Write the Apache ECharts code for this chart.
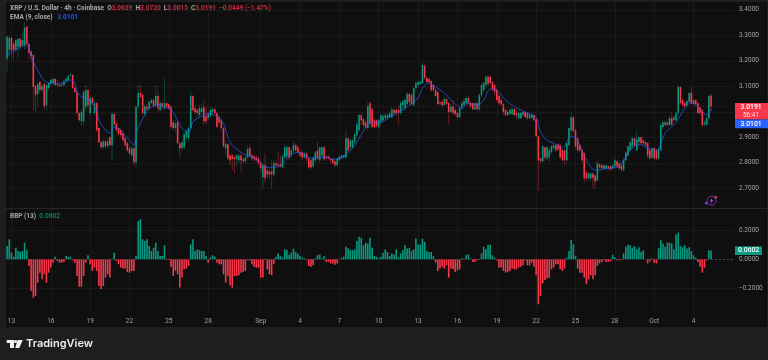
<!DOCTYPE html>
<html>
<head>
<meta charset="utf-8">
<style>html,body{margin:0;padding:0;background:#1e1e1e}#main{width:768px;height:360px}</style>
<script src="https://cdn.jsdelivr.net/npm/echarts@6/dist/echarts.min.js"></script>
</head>
<body>
<div id="main"></div>
<script>
// XRP / USD 4h candles
const opens = [3.211,3.243,3.290,3.267,3.243,3.255,3.286,3.259,3.259,3.334,
3.267,3.235,3.223,3.101,3.070,3.117,3.085,3.109,3.026,3.093,
3.109,3.113,3.129,3.109,3.105,3.101,3.105,3.121,3.125,3.141,
3.145,3.093,3.078,2.995,2.963,2.963,3.018,3.085,2.995,3.054,
2.995,3.034,2.936,2.881,2.861,2.884,2.865,2.900,2.869,2.991,
2.955,2.936,2.928,2.916,2.896,2.877,2.857,2.829,2.857,2.802,
3.018,3.074,3.066,2.991,3.022,3.014,3.034,3.046,3.026,3.062,
3.007,3.034,3.014,3.034,3.030,3.022,2.959,2.936,2.959,2.877,
2.857,2.861,2.900,2.896,2.936,3.062,3.014,3.007,2.987,2.999,
3.018,2.983,2.975,2.983,2.999,3.010,2.995,2.979,2.967,2.936,
2.857,2.873,2.829,2.829,2.821,2.814,2.810,2.829,2.814,2.806,
2.821,2.857,2.829,2.825,2.821,2.817,2.798,2.743,2.790,2.770,
2.766,2.766,2.754,2.798,2.794,2.794,2.782,2.821,2.825,2.861,
2.829,2.849,2.869,2.861,2.841,2.841,2.821,2.837,2.817,2.810,
2.786,2.810,2.849,2.810,2.829,2.861,2.825,2.825,2.817,2.814,
2.806,2.790,2.810,2.817,2.821,2.821,2.896,2.861,2.861,2.881,
2.908,2.928,2.987,2.971,2.959,2.936,3.034,3.010,2.967,2.967,
2.940,2.963,2.967,2.975,2.975,2.979,2.979,3.007,3.007,3.007,
2.995,3.026,3.014,3.030,3.070,3.066,3.026,3.093,3.105,3.109,
3.113,3.180,3.133,3.129,3.121,3.105,3.085,3.078,3.038,3.038,
3.026,3.050,3.034,2.999,3.022,3.007,2.995,2.979,3.014,3.026,
3.034,3.054,3.034,3.034,3.010,3.034,3.010,3.066,3.085,3.105,
3.137,3.137,3.117,3.105,3.085,3.062,3.046,3.030,3.007,2.987,
2.991,2.991,3.010,2.995,2.975,2.975,2.987,2.999,2.995,2.975,
2.975,2.987,2.971,2.904,2.817,2.806,2.861,2.817,2.821,2.841,
2.857,2.869,2.873,2.869,2.849,2.849,2.810,2.869,2.928,2.979,
2.928,2.896,2.869,2.849,2.837,2.762,2.739,2.739,2.758,2.750,
2.731,2.794,2.790,2.778,2.778,2.786,2.786,2.778,2.786,2.806,
2.798,2.790,2.770,2.810,2.829,2.849,2.865,2.896,2.849,2.881,
2.900,2.888,2.881,2.877,2.849,2.821,2.857,2.849,2.817,2.849,
2.940,2.948,2.959,2.948,2.975,2.967,2.967,2.995,3.097,3.046,
3.034,3.026,3.038,3.074,3.046,3.046,3.034,3.018,3.007,2.951,
2.948,2.975,3.0639]
const closes = [3.294,3.290,3.243,3.243,3.282,3.286,3.255,3.282,3.330,3.267,
3.231,3.219,3.097,3.066,3.109,3.085,3.101,3.022,3.105,3.113,
3.125,3.129,3.105,3.105,3.101,3.105,3.121,3.129,3.141,3.145,
3.093,3.078,2.995,2.967,2.999,3.078,3.085,3.026,3.054,3.034,
3.034,2.928,2.881,2.861,2.884,2.865,2.884,2.869,2.991,2.951,
2.928,2.912,2.908,2.888,2.869,2.849,2.837,2.857,2.802,3.018,
3.074,3.058,2.995,3.022,3.010,3.038,3.046,3.022,3.062,3.014,
3.034,3.018,3.034,3.018,3.014,2.940,2.936,2.955,2.877,2.857,
2.881,2.912,2.924,2.936,3.062,3.007,2.999,2.995,3.014,3.014,
2.963,2.963,2.991,3.007,3.010,2.995,2.940,2.959,2.936,2.865,
2.873,2.817,2.810,2.814,2.814,2.829,2.829,2.810,2.806,2.821,
2.853,2.825,2.817,2.814,2.810,2.798,2.778,2.790,2.739,2.754,
2.754,2.754,2.798,2.790,2.790,2.786,2.825,2.861,2.861,2.821,
2.849,2.869,2.849,2.841,2.829,2.821,2.837,2.817,2.782,2.782,
2.821,2.841,2.817,2.861,2.861,2.814,2.821,2.817,2.810,2.798,
2.790,2.817,2.825,2.829,2.829,2.896,2.849,2.888,2.888,2.912,
2.951,2.987,2.967,2.948,2.940,3.022,2.955,2.940,2.940,2.944,
2.967,2.987,2.983,2.987,2.987,2.995,3.010,2.995,2.995,2.995,
3.034,3.042,3.046,3.070,3.038,3.030,3.093,3.113,3.117,3.117,
3.184,3.133,3.117,3.117,3.085,3.085,3.062,3.030,3.034,3.026,
3.050,3.030,2.999,3.022,2.995,2.991,2.979,3.014,3.034,3.042,
3.054,3.034,3.018,3.010,3.034,3.010,3.066,3.105,3.113,3.137,
3.109,3.113,3.089,3.078,3.046,3.034,3.030,2.999,2.987,2.999,
3.007,3.010,2.987,2.987,2.995,2.995,2.999,2.979,2.975,2.987,
2.987,2.967,2.904,2.810,2.806,2.865,2.821,2.861,2.849,2.865,
2.869,2.849,2.853,2.821,2.810,2.810,2.877,2.936,2.979,2.924,
2.865,2.849,2.849,2.810,2.739,2.739,2.758,2.758,2.739,2.727,
2.798,2.782,2.778,2.790,2.790,2.778,2.774,2.790,2.810,2.786,
2.778,2.774,2.810,2.841,2.865,2.881,2.896,2.869,2.892,2.900,
2.877,2.877,2.869,2.829,2.817,2.857,2.817,2.817,2.853,2.948,
2.959,2.959,2.948,2.975,2.951,2.979,2.995,3.097,3.034,3.026,
3.022,3.042,3.074,3.034,3.030,3.030,2.995,2.995,2.948,2.959,
2.975,3.062,3.0191]
const highs = [3.298,3.298,3.294,3.275,3.286,3.290,3.290,3.310,3.353,3.338,
3.267,3.243,3.227,3.105,3.117,3.121,3.109,3.117,3.109,3.117,
3.133,3.133,3.133,3.125,3.117,3.121,3.129,3.137,3.148,3.152,
3.148,3.101,3.085,2.999,3.007,3.085,3.105,3.089,3.062,3.058,
3.046,3.038,2.940,2.888,2.892,2.888,2.896,2.904,2.999,2.995,
2.959,2.940,2.936,2.924,2.904,2.884,2.865,2.865,2.861,3.026,
3.105,3.105,3.074,3.030,3.030,3.046,3.054,3.054,3.105,3.085,
3.042,3.038,3.133,3.038,3.034,3.026,2.967,2.967,2.963,2.881,
2.888,2.920,2.932,2.944,3.081,3.066,3.022,3.014,3.026,3.034,
3.046,3.022,2.999,3.014,3.018,3.014,2.999,2.987,2.975,2.940,
2.888,2.877,2.837,2.833,2.829,2.833,2.837,2.837,2.821,2.829,
2.869,2.869,2.837,2.833,2.829,2.825,2.806,2.798,2.837,2.790,
2.778,2.810,2.810,2.806,2.841,2.829,2.837,2.869,2.869,2.865,
2.857,2.884,2.877,2.869,2.849,2.849,2.845,2.841,2.821,2.817,
2.825,2.845,2.881,2.865,2.865,2.865,2.829,2.829,2.821,2.817,
2.810,2.821,2.829,2.833,2.833,2.928,2.900,2.892,2.892,2.920,
2.959,2.991,2.995,2.975,2.967,3.038,3.042,3.018,2.975,2.971,
2.971,2.991,2.991,2.995,2.995,3.003,3.018,3.014,3.014,3.026,
3.042,3.046,3.054,3.078,3.074,3.074,3.101,3.121,3.125,3.125,
3.192,3.188,3.141,3.133,3.125,3.109,3.093,3.081,3.046,3.046,
3.058,3.054,3.038,3.030,3.046,3.014,2.999,3.026,3.042,3.054,
3.062,3.062,3.042,3.038,3.038,3.038,3.074,3.113,3.121,3.145,
3.145,3.141,3.121,3.109,3.093,3.070,3.054,3.034,3.014,3.007,
3.014,3.018,3.014,3.003,2.999,2.999,3.003,3.003,2.999,2.995,
2.995,2.991,2.975,2.908,2.821,2.869,2.865,2.865,2.857,2.869,
2.877,2.873,2.877,2.873,2.853,2.853,2.881,2.940,2.995,2.983,
2.932,2.900,2.873,2.853,2.841,2.770,2.762,2.762,2.762,2.754,
2.806,2.798,2.794,2.794,2.794,2.790,2.790,2.794,2.817,2.810,
2.802,2.794,2.821,2.845,2.869,2.888,2.904,2.900,2.928,2.904,
2.904,2.892,2.884,2.881,2.853,2.861,2.861,2.853,2.857,2.955,
2.967,2.967,2.963,2.983,2.999,2.987,2.999,3.105,3.101,3.054,
3.042,3.046,3.081,3.097,3.050,3.050,3.038,3.022,3.010,2.967,
2.979,3.070,3.0720]
const lows = [3.152,3.219,3.211,3.204,3.235,3.211,3.243,3.251,3.243,3.251,
3.204,3.196,3.007,2.999,3.018,3.074,3.078,3.014,3.007,3.085,
3.101,3.105,3.101,3.097,3.097,3.097,3.101,3.117,3.121,3.137,
3.089,3.074,2.983,2.959,2.944,2.948,3.007,3.018,2.987,3.022,
2.987,2.920,2.877,2.857,2.853,2.857,2.857,2.865,2.810,2.944,
2.920,2.908,2.900,2.881,2.861,2.841,2.829,2.821,2.794,2.782,
3.010,3.054,2.987,2.983,3.007,3.007,3.026,3.018,3.018,2.999,
2.999,3.007,3.007,3.014,3.007,2.932,2.928,2.920,2.873,2.821,
2.849,2.849,2.888,2.881,2.924,2.999,2.991,2.983,2.979,2.991,
2.951,2.951,2.967,2.975,2.987,2.987,2.936,2.948,2.928,2.861,
2.829,2.810,2.790,2.770,2.758,2.786,2.798,2.762,2.798,2.794,
2.814,2.817,2.810,2.806,2.802,2.790,2.762,2.699,2.723,2.739,
2.739,2.699,2.746,2.782,2.782,2.778,2.778,2.817,2.817,2.810,
2.821,2.841,2.841,2.833,2.821,2.810,2.814,2.802,2.778,2.774,
2.778,2.802,2.810,2.802,2.821,2.806,2.814,2.814,2.798,2.794,
2.782,2.786,2.806,2.814,2.817,2.817,2.841,2.853,2.857,2.873,
2.900,2.920,2.948,2.936,2.936,2.928,2.944,2.936,2.936,2.936,
2.932,2.948,2.959,2.967,2.971,2.975,2.975,2.987,2.987,2.951,
2.987,3.007,3.007,3.022,3.030,3.022,3.022,3.074,3.097,3.105,
3.109,3.125,3.109,3.109,3.078,3.078,3.058,3.026,3.026,3.018,
3.022,3.026,2.951,2.995,2.987,2.983,2.975,2.975,3.007,3.022,
3.030,3.026,3.014,3.007,3.007,3.003,3.003,3.054,3.078,3.093,
3.101,3.105,3.081,3.066,3.038,3.026,3.022,2.987,2.983,2.983,
2.987,2.987,2.983,2.971,2.971,2.971,2.979,2.975,2.967,2.971,
2.971,2.963,2.900,2.691,2.798,2.802,2.810,2.810,2.802,2.833,
2.853,2.845,2.845,2.814,2.806,2.790,2.806,2.865,2.904,2.920,
2.857,2.841,2.841,2.802,2.723,2.731,2.731,2.731,2.699,2.699,
2.727,2.774,2.774,2.774,2.770,2.770,2.766,2.774,2.782,2.778,
2.770,2.766,2.766,2.802,2.825,2.845,2.857,2.861,2.845,2.857,
2.873,2.869,2.865,2.817,2.814,2.817,2.814,2.810,2.814,2.845,
2.932,2.944,2.944,2.944,2.944,2.963,2.963,2.987,3.030,3.018,
3.018,3.022,3.034,3.030,3.026,3.022,2.991,2.987,2.940,2.940,
2.944,2.967,3.0015]

// EMA (9, close), sampled along the blue line
const emaBars = [0,1,4,6,9,10,12,14,16,19,21,23,26,29,31,32,33,35,37,39,41,42,45,47,49,52,54,56,58,59,61,63,65,69,71,75,78,80,83,85,87,90,93,96,99,101,103,107,110,112,116,119,122,125,128,131,134,137,140,143,146,149,152,155,158,161,164,167,171,175,180,184,188,190,193,196,200,204,208,211,215,218,221,224,227,231,235,238,242,244,247,250,254,257,259,262,264,267,270,274,279,282,285,289,293,297,301,306,311,314,317,320,322]
const emaValues = [3.204,3.231,3.243,3.255,3.271,3.243,3.196,3.164,3.133,3.113,3.113,3.109,3.113,3.125,3.113,3.078,3.066,3.054,3.046,3.034,3.007,2.967,2.928,2.916,2.940,2.928,2.908,2.888,2.869,2.916,2.955,2.987,3.014,3.026,3.022,3.007,2.967,2.936,2.920,2.959,2.975,2.987,2.995,2.979,2.955,2.900,2.869,2.841,2.829,2.825,2.802,2.782,2.782,2.790,2.817,2.837,2.841,2.825,2.817,2.821,2.821,2.814,2.817,2.833,2.857,2.896,2.936,2.959,2.959,2.979,3.003,3.026,3.054,3.093,3.113,3.097,3.074,3.038,3.014,3.034,3.026,3.046,3.089,3.085,3.054,3.026,3.007,2.995,2.979,2.920,2.888,2.877,2.857,2.896,2.904,2.869,2.829,2.782,2.770,2.778,2.782,2.810,2.849,2.873,2.857,2.849,2.916,2.959,3.026,3.034,3.010,2.987,3.0101]

// BBP (13)
const bbpValues = [.092,.138,.046,.018,.080,.057,.051,.057,.115,.064,
-.046,-.218,-.264,-.253,-.161,-.092,-.138,-.103,-.161,-.092,
-.057,-.023,.018,-.011,-.023,-.023,-.018,.023,.018,.018,
-.007,-.023,-.115,-.189,-.189,-.115,-.023,.028,-.034,-.080,
-.057,-.080,-.184,-.207,-.184,-.126,-.103,-.126,.005,.046,
-.011,-.034,-.057,-.064,-.064,-.087,-.092,-.080,-.080,.023,
.264,.276,.138,.126,.138,.092,.057,.080,.115,.057,
.023,.023,.097,-.005,-.005,-.051,-.115,-.080,-.103,-.195,
-.126,-.069,-.064,-.046,.103,.138,.057,.069,.064,.057,
.057,.023,-.023,.014,.028,.018,-.023,-.034,-.034,-.103,
-.161,-.115,-.179,-.195,-.115,-.115,-.110,-.092,-.087,-.080,
-.007,-.007,-.034,-.051,-.057,-.057,-.126,-.126,-.005,-.069,
-.103,-.108,-.034,.018,.041,.023,.011,.069,.064,.032,
.046,.074,.051,.041,.023,.011,.007,-.007,-.046,-.051,
-.041,.007,.028,.034,.007,.023,-.018,-.018,-.028,-.028,
-.037,-.028,.001,.011,.018,.087,.076,.064,.064,.069,
.126,.156,.149,.097,.115,.110,.149,.080,.023,.018,
.007,.018,.046,.069,.051,.023,.041,.034,.069,.014,
.041,.064,.097,.074,.080,.057,.069,.143,.103,.103,
.143,.120,.057,.051,.051,.023,-.023,-.080,-.064,-.051,
-.064,-.041,-.126,-.064,-.069,-.087,-.076,-.069,.007,-.005,
.028,.034,.007,-.018,-.018,-.007,-.005,.041,.087,.069,
.101,.101,.028,.011,-.007,-.057,-.057,-.080,-.092,-.087,
-.080,-.064,-.069,-.069,-.057,-.051,-.041,-.007,-.041,-.041,
-.023,-.051,-.110,-.310,-.253,-.166,-.143,-.133,-.126,-.069,
-.057,-.034,-.034,-.069,-.080,-.064,.011,.057,.133,.103,
.023,-.064,-.092,-.092,-.126,-.172,-.138,-.110,-.138,-.110,
-.046,-.028,-.018,-.007,-.018,-.018,-.014,.032,.014,-.007,
-.007,-.005,.041,.087,.101,.097,.080,.092,.069,.083,
.051,.062,.001,-.028,-.014,.007,-.023,-.028,.076,.133,
.110,.087,.115,.115,.110,.069,.172,.184,.092,.083,
.097,.074,.083,.057,.028,.011,-.018,-.051,-.092,-.057,
-.007,.062,.0602]

// time axis: which bar carries which label
const tickBars = [2,20,38,56,74,92,116,134,152,170,188,206,224,242,260,278,296,314]
const tickLabels = ['13','16','19','22','25','28','Sep','4','7','10','13','16','19','22','25','28','Oct','4']
const priceTicks = [2.7,2.8,2.9,3.0,3.1,3.2,3.3,3.4]
const bbpTicks = [-0.2,0,0.2]

const lastPrice = 3.0191
const lastEma = 3.0101
const lastBbp = 0.0602

const UP = '#089981'
const DOWN = '#f7384b'
const BLUE = '#2962ff'
const GRIDLINE = '#1a1a1a'
const LABEL = '#a3a3a3'
const FONT = 'Roboto'

// room for empty bars on the right of the last candle
let barCount = 333
let categories = []
for (let i = 0; i < barCount; i++) categories.push('' + i)

let candleData = opens.map((o, i) => [i, o, closes[i], lows[i], highs[i]])
let emaData = emaBars.map((b, i) => [b, emaValues[i]])

function renderCandle(params, api) {
  let i = api.value(0)
  let o = api.value(1)
  let c = api.value(2)
  let band = api.size([1, 0])[0]
  let x = api.coord([i, o])[0]
  let yTop = api.coord([i, Math.max(o, c)])[1]
  let yBot = api.coord([i, Math.min(o, c)])[1]
  let yHigh = api.coord([i, api.value(4)])[1]
  let yLow = api.coord([i, api.value(3)])[1]
  let color = c >= o ? UP : DOWN
  let w = band * 0.72
  return {
    type: 'group',
    children: [
      { type: 'line', shape: { x1: x, y1: yHigh, x2: x, y2: yLow }, style: { stroke: color, lineWidth: 0.55, opacity: 0.7 } },
      { type: 'rect', shape: { x: x - w / 2, y: yTop, width: w, height: Math.max(yBot - yTop, 0.7) }, style: { fill: color } }
    ]
  }
}

function isTick(index) {
  return tickBars.indexOf(index) >= 0
}

let chart = echarts.init(document.getElementById('main'))

let option = {
  animation: false,
  backgroundColor: '#1e1e1e',
  textStyle: { fontFamily: FONT },
  title: [
    {
      left: 10, top: 5, padding: 0,
      text: '{a|XRP / U.S. Dollar · 4h · Coinbase}  {a|O}{r|3.0639}  {a|H}{r|3.0720}  {a|L}{r|3.0015}  {a|C}{r|3.0191}  {r|−0.0449 (−1.47%)}',
      textStyle: { fontSize: 6.5, fontFamily: FONT, rich: {
        a: { fontSize: 6.5, color: '#a8a8a8', fontFamily: FONT },
        r: { fontSize: 6.5, color: '#c92c3f', fontFamily: FONT }
      } }
    },
    {
      left: 10, top: 14, padding: 0,
      text: '{a|EMA (9, close)}   {b|3.0101}',
      textStyle: { fontSize: 6.5, fontFamily: FONT, rich: {
        a: { fontSize: 6.5, color: '#a8a8a8', fontFamily: FONT },
        b: { fontSize: 6.5, color: '#2457e0', fontFamily: FONT }
      } }
    },
    {
      left: 10, top: 213, padding: 0,
      text: '{a|BBP (13)}  {g|0.0602}',
      textStyle: { fontSize: 6.5, fontFamily: FONT, rich: {
        a: { fontSize: 6.5, color: '#a8a8a8', fontFamily: FONT },
        g: { fontSize: 6.5, color: '#08806d', fontFamily: FONT }
      } }
    }
  ],
  grid: [
    { left: 6, top: 2, width: 728, height: 206 },
    { left: 6, top: 209, width: 728, height: 104 }
  ],
  xAxis: [
    {
      gridIndex: 0, type: 'category', data: categories,
      axisLine: { show: false }, axisTick: { show: false }, axisLabel: { show: false },
      splitLine: { show: true, alignWithLabel: true, interval: isTick, lineStyle: { color: GRIDLINE, width: 1 } }
    },
    {
      gridIndex: 1, type: 'category', data: categories,
      axisLine: { show: false }, axisTick: { show: false },
      axisLabel: {
        interval: isTick, margin: 5, fontSize: 6.5, color: LABEL, fontFamily: FONT,
        formatter: (value, index) => tickLabels[tickBars.indexOf(index)]
      },
      splitLine: { show: true, alignWithLabel: true, interval: isTick, lineStyle: { color: GRIDLINE, width: 1 } }
    }
  ],
  yAxis: [
    {
      gridIndex: 0, type: 'value', position: 'right',
      min: 2.6227, max: 3.4306,
      axisLine: { show: false },
      axisTick: { show: false, customValues: priceTicks },
      axisLabel: { customValues: priceTicks, margin: 5, fontSize: 6.5, color: LABEL, fontFamily: FONT, formatter: v => v.toFixed(4) },
      splitLine: { show: true, lineStyle: { color: GRIDLINE, width: 1 } }
    },
    {
      gridIndex: 1, type: 'value', position: 'right',
      min: -0.37, max: 0.347,
      axisLine: { show: false },
      axisTick: { show: false, customValues: bbpTicks },
      axisLabel: { customValues: bbpTicks, margin: 5, fontSize: 6.5, color: LABEL, fontFamily: FONT, formatter: v => v.toFixed(4).replace('-', '−') },
      splitLine: { show: true, lineStyle: { color: GRIDLINE, width: 1 } }
    }
  ],
  series: [
    {
      name: 'XRP',
      type: 'custom',
      xAxisIndex: 0, yAxisIndex: 0,
      renderItem: renderCandle,
      encode: { x: 0, y: [1, 2, 3, 4] },
      data: candleData,
      clip: true
    },
    {
      name: 'EMA',
      type: 'line',
      xAxisIndex: 0, yAxisIndex: 0,
      data: emaData,
      smooth: 0.3,
      showSymbol: false,
      lineStyle: { color: BLUE, width: 0.7 },
      z: 3,
      markLine: {
        silent: true, symbol: 'none', animation: false,
        label: { show: false },
        lineStyle: { color: '#4a2026', width: 0.7, type: [2, 2] },
        data: [{ yAxis: lastPrice }]
      }
    },
    {
      name: 'BBP',
      type: 'bar',
      xAxisIndex: 1, yAxisIndex: 1,
      data: bbpValues,
      barWidth: 1.6,
      itemStyle: { color: p => (p.value >= 0 ? UP : DOWN) },
      markLine: {
        silent: true, symbol: 'none', animation: false,
        label: { show: false },
        lineStyle: { color: '#5a5a5a', width: 0.7, type: [2, 2] },
        data: [[{ coord: [322, 0] }, { coord: [332, 0] }]]
      }
    }
  ]
}

chart.setOption(option)

// price tags and furniture, tags placed through the axes
let priceY = chart.convertToPixel({ yAxisIndex: 0 }, lastPrice)
let bbpY = chart.convertToPixel({ yAxisIndex: 1 }, lastBbp)

chart.setOption({
  graphic: [
    // dark panel behind both panes and the axes
    { type: 'rect', z: -10, silent: true, shape: { x: 6, y: 2, width: 761, height: 325 }, style: { fill: '#0f0f0f' } },
    { type: 'rect', z: 10, silent: true, shape: { x: 6, y: 208, width: 761, height: 1 }, style: { fill: '#262626' } },
    // last price tag
    { type: 'rect', z: 20, shape: { x: 735, y: priceY - 4, width: 33, height: 16.5 }, style: { fill: '#f7384b' } },
    { type: 'text', z: 21, x: 751, y: priceY, style: { text: '3.0191', fill: '#fff', fontSize: 6.8, fontFamily: FONT, fontWeight: 500, align: 'center', verticalAlign: 'middle' } },
    { type: 'text', z: 21, x: 751, y: priceY + 8, style: { text: '56:41', fill: '#ffd9dc', fontSize: 6.5, fontFamily: FONT, align: 'center', verticalAlign: 'middle' } },
    // EMA tag
    { type: 'rect', z: 20, shape: { x: 735, y: priceY + 12.5, width: 33, height: 8.8 }, style: { fill: BLUE } },
    { type: 'text', z: 21, x: 751, y: priceY + 17, style: { text: lastEma.toFixed(4), fill: '#fff', fontSize: 6.8, fontFamily: FONT, fontWeight: 500, align: 'center', verticalAlign: 'middle' } },
    // BBP tag
    { type: 'rect', z: 20, shape: { x: 735, y: bbpY - 4.2, width: 27, height: 8.6 }, style: { fill: UP } },
    { type: 'text', z: 21, x: 748.5, y: bbpY, style: { text: '0.0602', fill: '#fff', fontSize: 6.8, fontFamily: FONT, fontWeight: 500, align: 'center', verticalAlign: 'middle' } },
    // purple flash icon
    { type: 'circle', z: 20, shape: { cx: 711.5, cy: 200.7, r: 4.6 }, style: { fill: 'none', stroke: '#7b2fa8', lineWidth: 1 } },
    { type: 'polygon', z: 21, shape: { points: [[712.5, 197.5], [709.8, 201.2], [711.4, 201.2], [710.6, 204], [713.3, 200.2], [711.7, 200.2]] }, style: { fill: '#b04ce0' } },
    { type: 'circle', z: 21, shape: { cx: 715.8, cy: 197.2, r: 1.2 }, style: { fill: '#f0384a' } },
    { type: 'circle', z: 21, shape: { cx: 706.3, cy: 203.2, r: 1.4 }, style: { fill: '#6a3cf0' } },
    // TradingView logo
    { type: 'polygon', z: 20, shape: { points: [[6.7, 340], [14, 340], [14, 348], [10, 348], [10, 343], [6.7, 343]] }, style: { fill: '#f2f2f2' } },
    { type: 'circle', z: 20, shape: { cx: 15.6, cy: 341.5, r: 1.5 }, style: { fill: '#f2f2f2' } },
    { type: 'polygon', z: 20, shape: { points: [[17.6, 340], [22.7, 340], [19.3, 348], [15.2, 348]] }, style: { fill: '#f2f2f2' } },
    { type: 'text', z: 20, x: 26, y: 344, style: { text: 'TradingView', fill: '#ececec', fontSize: 11, fontFamily: 'Inter', fontWeight: 600, align: 'left', verticalAlign: 'middle' } }
  ]
})
</script>
</body>
</html>
